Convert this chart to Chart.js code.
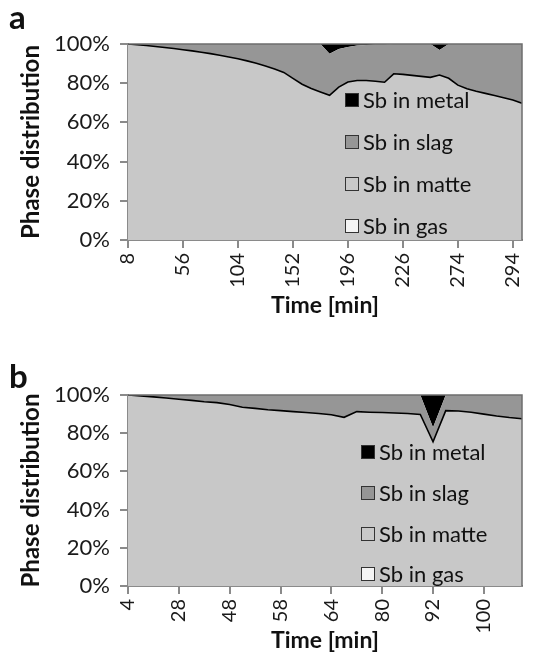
<!DOCTYPE html>
<html>
<head>
<meta charset="utf-8">
<script src="https://cdn.jsdelivr.net/npm/chart.js@4.4.1/dist/chart.umd.min.js"></script>
<style>
  html, body { margin: 0; padding: 0; background: #fff; }
  #wrap { position: relative; width: 535px; height: 670px; overflow: hidden; }
  .panel { position: absolute; left: 0; width: 535px; }
</style>
</head>
<body>
<div id="wrap">
  <div class="panel" style="top:0;height:335px"><canvas id="chartA"></canvas></div>
  <div class="panel" style="top:355px;height:315px"><canvas id="chartB"></canvas></div>
</div>
<script>
// panel a: time categories (only every 6th one is labelled)
const timeA = [8, 16, 24, 32, 40, 48, 56, 64, 72, 80, 88, 96, 104, 112, 120, 128, 136, 144, 152,
  160, 168, 176, 182, 189, 196, 201, 206, 211, 216, 221, 226, 234, 242, 250, 258, 266, 274,
  278, 281, 284, 287, 291, 294, 298];
const gasA = [0, 0, 0, 0, 0, 0, 0, 0, 0, 0, 0, 0, 0, 0, 0, 0, 0, 0, 0, 0, 0, 0,
  0, 0, 0, 0, 0, 0, 0, 0, 0, 0, 0, 0, 0, 0, 0, 0, 0, 0, 0, 0, 0, 0];
const matteA = [100, 99.6, 99.2, 98.7, 98.2, 97.7, 97.1, 96.5, 95.8, 95.1, 94.3, 93.4, 92.5,
  91.4, 90.2, 88.8, 87.2, 85.5, 82.5, 79.5, 77.3, 75.5, 73.8, 78.0, 80.6, 81.4, 81.4, 81.0,
  80.5, 84.8, 84.5, 84.0, 83.5, 83.0, 84.2, 82.5, 79.0, 77.2, 75.9, 74.8, 73.7, 72.6, 71.4, 69.8];
const slagA = [0, 0.4, 0.8, 1.3, 1.8, 2.3, 2.9, 3.5, 4.2, 4.9, 5.7, 6.6, 7.5, 8.6, 9.8, 11.2,
  12.8, 14.5, 17.5, 20.5, 22.7, 24.5, 21.2, 19.5, 17.9, 17.8, 18.1, 18.7, 19.3, 15.2, 15.5,
  16.0, 16.5, 17.0, 12.8, 17.5, 21.0, 22.8, 24.1, 25.2, 26.3, 27.4, 28.6, 30.2];
const metalA = [0, 0, 0, 0, 0, 0, 0, 0, 0, 0, 0, 0, 0, 0, 0, 0, 0, 0, 0, 0, 0, 0,
  5, 2.5, 1.5, 0.8, 0.5, 0.3, 0.2, 0, 0, 0, 0, 0, 3, 0, 0, 0, 0, 0, 0, 0, 0, 0];

// panel b: time categories (every 4th labelled)
const timeB = [4, 10, 16, 22, 28, 33, 38, 43, 48, 50, 53, 55, 58, 59, 61, 62, 64, 68, 72, 76,
  80, 83, 86, 89, 92, 94, 96, 98, 100, 102, 104, 106];
const gasB = [0, 0, 0, 0, 0, 0, 0, 0, 0, 0, 0, 0, 0, 0, 0, 0, 0, 0, 0, 0, 0, 0, 0, 0, 0, 0,
  0, 0, 0, 0, 0, 0];
const matteB = [100, 99.5, 99.0, 98.4, 97.8, 97.2, 96.5, 96.0, 95.0, 93.6, 93.0, 92.3, 91.8,
  91.3, 90.8, 90.3, 89.7, 88.3, 91.3, 91.0, 90.8, 90.6, 90.3, 89.8, 75.5, 91.8, 91.6, 91.0,
  90.0, 89.0, 88.2, 87.6];
const slagB = [0, 0.5, 1.0, 1.6, 2.2, 2.8, 3.5, 4.0, 5.0, 6.4, 7.0, 7.7, 8.2, 8.7, 9.2, 9.7,
  10.3, 11.7, 8.7, 9.0, 9.2, 9.4, 9.7, 10.2, 7.5, 8.2, 8.4, 9.0, 10.0, 11.0, 11.8, 12.4];
const metalB = [0, 0, 0, 0, 0, 0, 0, 0, 0, 0, 0, 0, 0, 0, 0, 0, 0, 0, 0, 0, 0, 0, 0, 0, 17,
  0, 0, 0, 0, 0, 0, 0];

const yTicks = [0, 20, 40, 60, 80, 100];
const legendItems = [
  { text: "Sb in metal", color: "#000000" },
  { text: "Sb in slag", color: "#969696" },
  { text: "Sb in matte", color: "#c8c8c8" },
  { text: "Sb in gas", color: "#f4f4f4" },
];

const FONT = "Lato, 'Open Sans', sans-serif";
const AXIS = "#8a8a8a";

// legend inside the plot, panel letter, and the top/right frame
const extras = {
  id: "extras",
  afterDraw(chart, args, opts) {
    const { ctx, chartArea: a } = chart;
    ctx.save();
    ctx.strokeStyle = "#6e6e6e";
    ctx.lineWidth = 1.5;
    ctx.beginPath();
    ctx.moveTo(a.left, a.top);
    ctx.lineTo(a.right, a.top);
    ctx.lineTo(a.right, a.bottom);
    ctx.stroke();

    ctx.font = "22px " + FONT;
    ctx.textBaseline = "middle";
    legendItems.forEach((it, i) => {
      const y = opts.rows[i];
      ctx.fillStyle = it.color;
      ctx.fillRect(opts.x, y - 7, 14, 14);
      ctx.strokeStyle = "#333";
      ctx.lineWidth = 1;
      ctx.strokeRect(opts.x + 0.5, y - 6.5, 13, 13);
      ctx.fillStyle = "#111";
      ctx.fillText(it.text, opts.x + 18, y + 1);
    });

    ctx.font = "bold 33px " + FONT;
    ctx.textBaseline = "alphabetic";
    ctx.fillStyle = "#111";
    ctx.fillText(opts.tag, 9, opts.tagY);
    ctx.restore();
  },
};

function drawPanel(id, labels, gas, matte, slag, metal, every, layout, legend) {
  new Chart(document.getElementById(id), {
    type: "line",
    data: {
      labels: labels,
      datasets: [
        { label: "Sb in gas", data: gas, backgroundColor: "#f4f4f4", borderColor: "transparent", borderWidth: 0, fill: "origin" },
        { label: "Sb in matte", data: matte, backgroundColor: "#c8c8c8", borderColor: "#000", borderWidth: 1.6, fill: "-1" },
        { label: "Sb in slag", data: slag, backgroundColor: "#969696", borderColor: "transparent", borderWidth: 0, fill: "-1" },
        { label: "Sb in metal", data: metal, backgroundColor: "#000", borderColor: "transparent", borderWidth: 0, fill: "-1" },
      ],
    },
    options: {
      responsive: true,
      maintainAspectRatio: false,
      animation: false,
      elements: { point: { radius: 0 }, line: { tension: 0 } },
      layout: { padding: { left: 0, right: 13, top: layout.top, bottom: 0 } },
      plugins: {
        legend: { display: false },
        tooltip: { enabled: false },
        extras: legend,
      },
      scales: {
        x: {
          offset: false,
          grid: {
            drawOnChartArea: false,
            tickLength: 8,
            lineWidth: 2,
            color: (c) => (c.index % every === 0 ? AXIS : "rgba(0,0,0,0)"),
          },
          border: { color: AXIS, width: 2 },
          ticks: {
            autoSkip: false,
            maxRotation: 90,
            minRotation: 90,
            padding: 5,
            color: "#1a1a1a",
            font: { family: FONT, size: 20 },
            callback: function (v, i) {
              return i % every === 0 ? this.getLabelForValue(v) : "";
            },
          },
          title: {
            display: true,
            text: "Time [min]",
            color: "#111",
            font: { family: FONT, size: 23, weight: "bold" },
            padding: { top: 0, bottom: 16 },
          },
          afterFit: (s) => {
            s.height = layout.xh;
            s.paddingLeft = 0;
            s.paddingRight = 0;
          },
        },
        y: {
          stacked: true,
          min: 0,
          max: 100,
          afterBuildTicks: (s) => { s.ticks = yTicks.map((v) => ({ value: v })); },
          grid: { drawOnChartArea: false, tickLength: 8, lineWidth: 2, color: AXIS },
          border: { color: AXIS, width: 2 },
          ticks: {
            padding: 10,
            color: "#1a1a1a",
            font: { family: FONT, size: 22 },
            callback: (v) => v + "%",
          },
          title: {
            display: true,
            text: "Phase distribution",
            color: "#111",
            font: { family: FONT, size: 24, weight: "bold" },
            padding: { top: 17, bottom: 0 },
          },
          afterFit: (s) => { s.width = 128; },
        },
      },
    },
    plugins: [extras],
  });
}

drawPanel("chartA", timeA, gasA, matteA, slagA, metalA, 6,
  { top: 44, xh: 95 },
  { x: 345, rows: [100, 142, 184, 226], tag: "a", tagY: 29 });

drawPanel("chartB", timeB, gasB, matteB, slagB, metalB, 4,
  { top: 40, xh: 84 },
  { x: 361, rows: [97, 138, 179, 219], tag: "b", tagY: 33 });
</script>
</body>
</html>
